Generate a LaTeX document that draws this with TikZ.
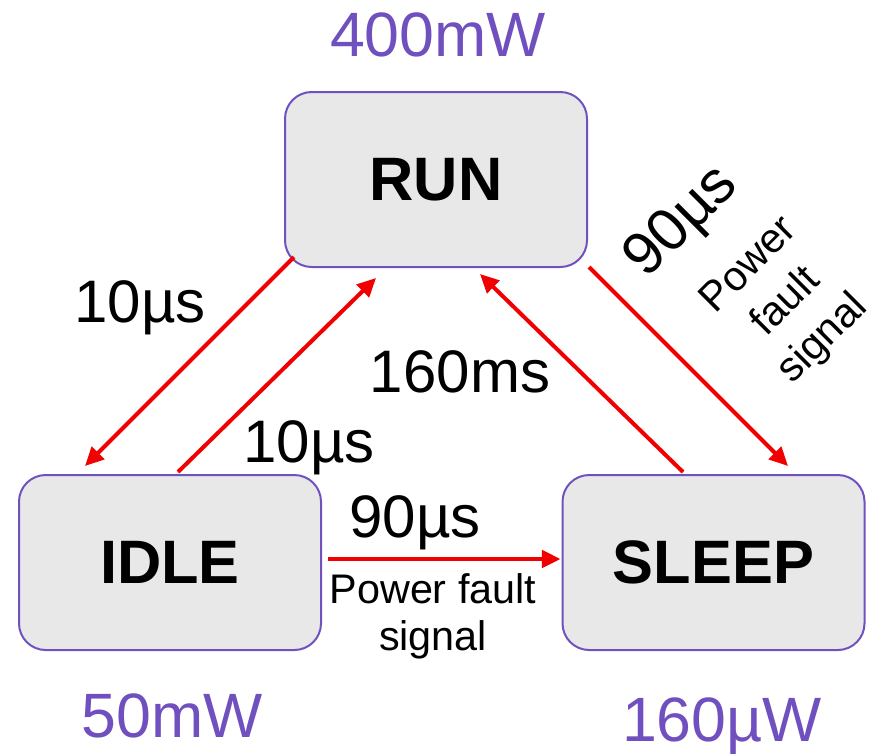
\documentclass[tikz,border=0pt]{standalone}
\usepackage{fontspec}
\setmainfont{Liberation Sans}
\usetikzlibrary{arrows.meta}
\definecolor{statefill}{HTML}{E8E8E8}
\definecolor{stateline}{HTML}{7052BE}
\definecolor{wattpurple}{HTML}{7050BE}
\definecolor{arrowred}{HTML}{F00000}

\begin{document}
\begin{tikzpicture}[
    x=0.75pt, y=-0.75pt,
    >={Triangle[length=14pt, width=13pt]},
    state/.style={draw=stateline, fill=statefill, rectangle, rounded corners=20pt, minimum width=226.5pt, minimum height=131.25pt, line width=1.5pt, font=\fontsize{46}{55}\selectfont\bfseries},
    watt/.style={text=wattpurple, anchor=base, inner sep=0pt, font=\fontsize{47}{56}\selectfont},
    delay/.style={anchor=base, inner sep=0pt, font=\fontsize{45}{54}\selectfont},
    note/.style={align=center, inner sep=0pt, font=\fontsize{31}{35}\selectfont},
    trans/.style={->, draw=arrowred, line width=3pt}
]
    \useasboundingbox (0, 0) rectangle (880, 754);

    \node [state] (run) at (436, 179.5) {RUN};
    \node [state] (idle) at (170, 562.5) {IDLE};
    \node [state] (sleep) at (713.5, 562.5) {SLEEP};

    \node [watt] (runW) at (438, 56) {400mW};
    \node [watt] (idleW) at (172, 737) {50mW};
    \node [watt] (sleepW) at (722, 741) {160µW};

    \draw [trans] ([shift={(10, -11)}]run.south west) -- ([shift={(67, -8)}]idle.north west);
    \draw [trans] ([shift={(8, -2)}]idle.north) -- ([shift={(92, 10)}]run.south west);
    \draw [trans] ([shift={(-30.5, -2)}]sleep.north) -- ([shift={(44, 6)}]run.south);
    \draw [trans] ([shift={(1, -1)}]run.south east) -- ([shift={(74.5, -8)}]sleep.north);
    \draw [trans] ([shift={(6, -3.5)}]idle.east) -- ([shift={(-1, -3.5)}]sleep.west);

    \node [delay] (d1) at (140, 322) {10µs};
    \node [delay] (d2) at (309, 462) {10µs};
    \node [delay] (d3) at (460, 392) {160ms};
    \node [delay, anchor=center, rotate=45] (d4) at (683, 223) {90µs};
    \node [delay] (d5) at (415, 537) {90µs};

    \node [note, font=\fontsize{31}{39}\selectfont, rotate=45] (n1) at (787, 303) {Power\\fault\\signal};
    \node [note, anchor=base] (n2) at (433, 650) {Power fault\\signal};

\end{tikzpicture}
\end{document}
